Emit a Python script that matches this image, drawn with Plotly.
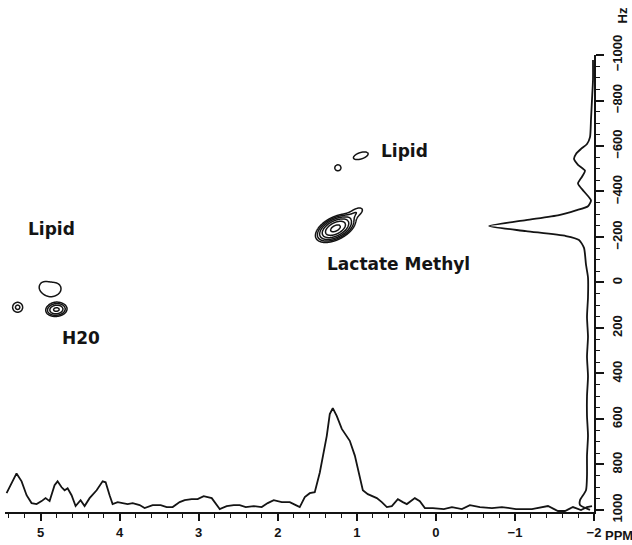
import numpy as np
import plotly.graph_objects as go

# ---------------- data ----------------
# bottom 1D projection (chemical shift, ppm) -- intensity in arbitrary units
proj_ppm = [5.43, 5.367, 5.304, 5.24, 5.177, 5.114, 5.05, 4.987, 4.937, 4.886,
            4.823, 4.785, 4.734, 4.696, 4.658, 4.608, 4.557, 4.494, 4.443, 4.38,
            4.291, 4.215, 4.177, 4.127, 4.089, 4.025, 3.962, 3.899, 3.835, 3.747,
            3.684, 3.582, 3.481, 3.405, 3.329, 3.241, 3.177, 3.089, 3.013, 2.937,
            2.835, 2.734, 2.646, 2.557, 2.481, 2.405, 2.304, 2.203, 2.127, 2.051,
            1.949, 1.848, 1.772, 1.722, 1.658, 1.595, 1.532, 1.468, 1.38, 1.342,
            1.304, 1.253, 1.19, 1.089, 1.025, 0.962, 0.924, 0.861, 0.747, 0.684,
            0.62, 0.557, 0.481, 0.418, 0.367, 0.266, 0.203, 0.139, 0.038, -0.101,
            -0.203, -0.329, -0.43, -0.557, -0.709, -0.835, -1.013, -1.215, -1.418, -1.544,
            -1.633, -1.734, -1.835, -1.911, -1.975]
proj_int = [19, 29, 39, 31, 17, 9, 8, 11, 14, 11,
            27, 31, 25, 22, 24, 17, 6, 12, 6, 14,
            22, 31, 30, 17, 8, 10, 9, 8, 9, 7,
            4, 7, 7, 5, 5, 10, 12, 13, 13, 16,
            14, 3, 6, 7, 7, 5, 6, 5, 9, 12,
            10, 10, 7, 5, 15, 19, 20, 40, 77, 99,
            105, 97, 84, 72, 57, 34, 22, 18, 14, 10,
            5, 6, 13, 10, 8, 14, 11, 4, 4, 3,
            5, 3, 7, 5, 4, 5, 3, 3, 6, 1,
            1, 5, 2, 5, 6]

# right 1D projection (frequency, Hz) -- intensity in arbitrary units
side_hz = [-978, -891, -804, -717, -639, -609, -587, -565, -543, -517,
           -491, -465, -435, -400, -361, -335, -317, -296, -274, -248,
           -226, -204, -187, -152, -78, -22, 65, 152, 239, 326,
           413, 500, 587, 674, 761, 848, 913, 957, 978, 1000]
side_int = [1, 1, 2, 3, 4, 7, 13, 18, 20, 16,
            9, 12, 16, 10, 3, 6, 18, 35, 68, 105,
            68, 28, 15, 10, 8, 6, 6, 7, 6, 7,
            6, 7, 7, 6, 7, 7, 8, 14, 14, 4]

# 2D cross peaks: position (ppm, Hz), amplitude, widths (ppm, Hz), correlation
pk_ppm = [1.27, 1.00, 0.95, 1.24, 5.29, 4.80, 4.962, 4.797, 4.886]
pk_hz = [-238, -310, -557, -504, 109, 119, 20, 27, 52]
pk_amp = [1.0, 0.10, 0.10, 0.10, 0.13, 0.35, 0.085, 0.085, 0.03]
pk_wppm = [0.11, 0.08, 0.11, 0.045, 0.057, 0.075, 0.08, 0.08, 0.063]
pk_whz = [27, 20, 20, 15, 19.6, 17, 30, 30, 22]
pk_rho = [0.5, 0.5, 0.5, 0.0, 0.0, 0.1, 0.0, 0.0, 0.0]

x_ticks = [5, 4, 3, 2, 1, 0, -1, -2]
y_ticks = [-1000, -800, -600, -400, -200, 0, 200, 400, 600, 800, 1000]

# ---------------- build 2D field ----------------
def field(ppm_axis, hz_axis):
    P, H = np.meshgrid(ppm_axis, hz_axis)
    z = np.full(P.shape, 1e-6)
    for p0, h0, a, sx, sy, r in zip(pk_ppm, pk_hz, pk_amp, pk_wppm, pk_whz, pk_rho):
        dx = (P - p0) / sx
        dy = (H - h0) / sy
        q = (dx * dx - 2 * r * dx * dy + dy * dy) / (1 - r * r)
        z += a * np.exp(-0.5 * q)
    return np.round(np.log10(z), 3)

ink = "#141414"
lev = dict(coloring="lines", start=np.log10(0.07), end=np.log10(0.95),
           size=np.log10(1.65), showlabels=False)

fig = go.Figure()

for ppm_axis, hz_axis in [(np.arange(0.70, 1.65, 0.004), np.arange(-660, -140, 3.0)),
                          (np.arange(4.50, 5.46, 0.004), np.arange(-60, 220, 2.0))]:
    fig.add_trace(go.Contour(x=ppm_axis, y=hz_axis, z=field(ppm_axis, hz_axis),
                             contours=lev, colorscale=[[0, ink], [1, ink]],
                             line=dict(width=1.5), showscale=False,
                             hoverinfo="skip", xaxis="x", yaxis="y"))

fig.add_trace(go.Scatter(x=proj_ppm, y=proj_int, mode="lines",
                         line=dict(color=ink, width=1.8), xaxis="x", yaxis="y2",
                         hoverinfo="skip"))
fig.add_trace(go.Scatter(x=side_int, y=side_hz, mode="lines",
                         line=dict(color=ink, width=1.8, shape="spline", smoothing=0.6),
                         xaxis="x2", yaxis="y", hoverinfo="skip"))

tick_font = dict(family="Liberation Sans, Arial", size=13, color=ink, weight="bold")
lab_font = dict(family="DejaVu Sans", size=17, color=ink, weight="bold")

fig.update_layout(
    width=632, height=545,
    margin=dict(l=5, r=38, t=55, b=28),
    paper_bgcolor="white", plot_bgcolor="white",
    showlegend=False,
    xaxis=dict(range=[5.45, -2], tickvals=x_ticks, ticks="outside", ticklen=7,
               tickwidth=1.6, tickcolor=ink, showline=True, linewidth=2, linecolor=ink,
               showgrid=False, zeroline=False, tickfont=tick_font,
               minor=dict(dtick=0.2, tick0=0, ticks="outside", ticklen=4,
                          tickwidth=1.4, tickcolor=ink, showgrid=False)),
    yaxis=dict(range=[1009, -1000], side="right", tickvals=y_ticks, ticks="outside",
               ticklen=8, tickwidth=1.6, tickcolor=ink, showline=True, linewidth=2,
               linecolor=ink, showgrid=False, zeroline=False, tickangle=-90,
               tickfont=tick_font, ticklabelstandoff=2,
               minor=dict(dtick=50, tick0=0, ticks="outside", ticklen=4,
                          tickwidth=1.4, tickcolor=ink, showgrid=False)),
    xaxis2=dict(overlaying="x", range=[589, 0], visible=False),
    yaxis2=dict(overlaying="y", range=[0, 462], visible=False),
    annotations=[
        dict(x=4.86, y=-235, text="Lipid", showarrow=False, font=lab_font),
        dict(x=4.49, y=243, text="H20", showarrow=False, font=lab_font),
        dict(x=0.392, y=-578, text="Lipid", showarrow=False, font=lab_font),
        dict(x=0.468, y=-83, text="Lactate Methyl", showarrow=False, font=lab_font),
        dict(xref="paper", yref="paper", x=1.0475, y=1.0866, text="Hz",
             xanchor="center", yanchor="middle",
             textangle=-90, showarrow=False, font=tick_font),
        dict(xref="paper", yref="paper", x=1.0153, y=-0.052, text="PPM",
             xanchor="left", yanchor="middle", showarrow=False, font=tick_font),
    ],
)

fig.write_html("out.html", config={"displayModeBar": False},
               post_script="document.body.style.margin='0';"
                           "document.body.style.overflow='hidden';")
